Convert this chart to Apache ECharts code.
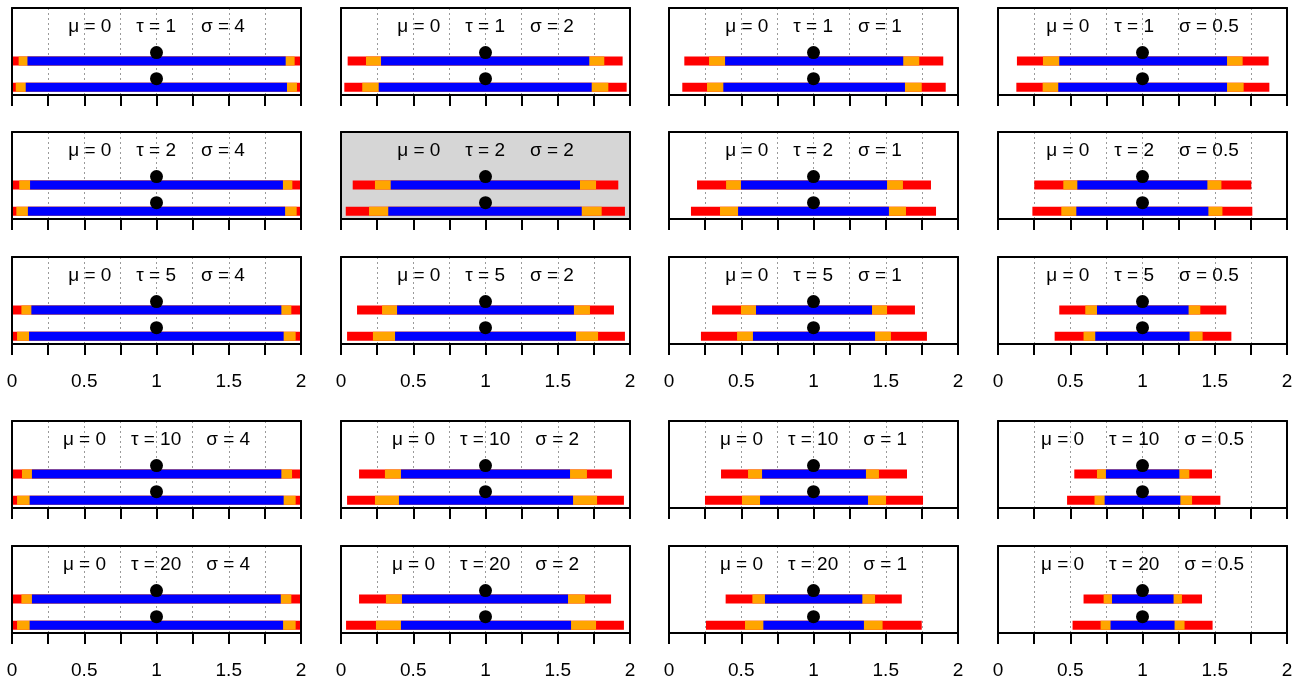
<!DOCTYPE html>
<html>
<head>
<meta charset="utf-8">
<title>interval panels</title>
<script src="https://cdn.jsdelivr.net/npm/echarts@6.0.0/dist/echarts.min.js"></script>
<style>
  html, body { margin: 0; padding: 0; background: #fff; }
  #chart { width: 1305px; height: 684px; }
</style>
</head>
<body>
<div id="chart"></div>
<script>
const mu = 0
const centre = 1
const taus = [1, 2, 5, 10, 20]
const sigmas = [4, 2, 1, 0.5]
const xTicks = [0, 0.5, 1, 1.5, 2]

// each panel: [upper bar, lower bar], bar = [red lo, orange lo, blue lo, blue hi, orange hi, red hi]
const tau1 = [
  [[0, 0.046, 0.107, 1.894, 1.956, 2], [0, 0.026, 0.095, 1.903, 1.972, 2]],
  [[0.046, 0.173, 0.277, 1.718, 1.822, 1.949], [0.023, 0.147, 0.261, 1.735, 1.850, 1.977]],
  [[0.106, 0.277, 0.388, 1.621, 1.732, 1.898], [0.092, 0.263, 0.376, 1.633, 1.749, 1.915]],
  [[0.131, 0.311, 0.424, 1.585, 1.693, 1.873], [0.127, 0.309, 0.417, 1.585, 1.700, 1.878]],
]
const tau2 = [
  [[0, 0.050, 0.125, 1.875, 1.940, 2], [0, 0.030, 0.110, 1.890, 1.970, 2]],
  [[0.081, 0.235, 0.344, 1.654, 1.765, 1.919], [0.033, 0.194, 0.327, 1.666, 1.804, 1.965]],
  [[0.194, 0.395, 0.498, 1.509, 1.619, 1.813], [0.152, 0.353, 0.478, 1.522, 1.640, 1.848]],
  [[0.251, 0.452, 0.549, 1.449, 1.546, 1.753], [0.238, 0.438, 0.542, 1.456, 1.553, 1.760]],
]
const tau5 = [
  [[0, 0.065, 0.134, 1.864, 1.933, 2], [0, 0.035, 0.118, 1.880, 1.963, 2]],
  [[0.111, 0.284, 0.388, 1.612, 1.723, 1.889], [0.042, 0.221, 0.374, 1.626, 1.779, 1.965]],
  [[0.298, 0.498, 0.602, 1.405, 1.509, 1.702], [0.221, 0.471, 0.581, 1.426, 1.536, 1.785]],
  [[0.424, 0.604, 0.685, 1.319, 1.400, 1.580], [0.392, 0.592, 0.673, 1.326, 1.416, 1.615]],
]
const tau10 = [
  [[0, 0.069, 0.138, 1.864, 1.938, 2], [0, 0.035, 0.122, 1.880, 1.963, 2]],
  [[0.125, 0.304, 0.415, 1.585, 1.702, 1.875], [0.042, 0.235, 0.401, 1.606, 1.772, 1.958]],
  [[0.360, 0.547, 0.644, 1.363, 1.453, 1.647], [0.249, 0.505, 0.630, 1.377, 1.502, 1.758]],
  [[0.528, 0.685, 0.747, 1.255, 1.324, 1.481], [0.478, 0.668, 0.738, 1.262, 1.343, 1.539]],
]
const tau20 = [
  [[0, 0.065, 0.138, 1.860, 1.933, 2], [0, 0.035, 0.122, 1.876, 1.963, 2]],
  [[0.125, 0.311, 0.422, 1.571, 1.689, 1.869], [0.035, 0.242, 0.415, 1.592, 1.765, 1.958]],
  [[0.392, 0.577, 0.664, 1.338, 1.426, 1.611], [0.256, 0.526, 0.653, 1.349, 1.478, 1.749]],
  [[0.592, 0.731, 0.789, 1.215, 1.273, 1.412], [0.516, 0.710, 0.779, 1.222, 1.291, 1.485]],
]
const intervals = [tau1, tau2, tau5, tau10, tau20]

// layout (px) and in-panel y levels (0..1)
const colLeft = [12, 341, 669, 998]
const rowTop = [8, 132, 257, 421, 546]
const panelW = 289
const panelH = 87
const barLevels = [0.39, 0.09]
const textLevel = 0.78
const labelledRows = [2, 4]
const shadedPanel = [1, 1]

const colours = ['#ff0000', '#ffa500', '#0000ff']
const font = '"Liberation Sans", Arial, Helvetica, sans-serif'

function bandData(pair) {
  const out = []
  pair.forEach((iv, k) => {
    for (let c = 0; c < 3; c++) out.push([iv[c], iv[5 - c], barLevels[k], c])
  })
  return out
}

function renderBand(params, api) {
  const a = api.coord([api.value(0), api.value(2)])
  const b = api.coord([api.value(1), api.value(2)])
  const h = 9
  const shape = echarts.graphic.clipRectByRect(
    { x: a[0], y: a[1] - h / 2, width: b[0] - a[0], height: h },
    params.coordSys
  )
  return shape && { type: 'rect', shape, style: { fill: colours[api.value(3)] } }
}

function renderText(params, api) {
  const p = api.coord([api.value(0), api.value(1)])
  return {
    type: 'text',
    x: p[0],
    y: p[1],
    style: {
      text: labelFor(params.seriesName),
      font: '19px ' + font,
      fill: '#000',
      align: 'center',
      verticalAlign: 'middle',
    },
  }
}

function labelFor(name) {
  const [tau, sigma] = name.split('|')
  const gap = '    \u2009'
  return `μ = ${mu}${gap}τ = ${tau}${gap}σ = ${sigma}`
}

const grid = []
const xAxis = []
const yAxis = []
const series = []

taus.forEach((tau, r) => {
  sigmas.forEach((sigma, c) => {
    const g = grid.length
    const shaded = r === shadedPanel[0] && c === shadedPanel[1]
    grid.push({
      left: colLeft[c],
      top: rowTop[r],
      width: panelW,
      height: panelH,
      show: shaded,
      backgroundColor: '#d6d6d6',
      borderWidth: 0,
    })
    const showLabels = labelledRows.includes(r)
    // bottom axis with ticks
    xAxis.push({
      gridIndex: g, type: 'value', min: 0, max: 2, interval: 0.25, position: 'bottom', z: 5,
      axisLine: { show: true, onZero: false, lineStyle: { color: '#000', width: 2 } },
      axisTick: { show: true, inside: false, length: 11, lineStyle: { color: '#000', width: 2 } },
      axisLabel: {
        show: showLabels, margin: 28, color: '#000', fontSize: 19, fontFamily: font,
        showMinLabel: true, showMaxLabel: true,
        formatter: v => (xTicks.includes(+v.toFixed(4)) ? String(+v.toFixed(4)) : ''),
      },
      splitLine: { show: false },
    })
    // top border + dotted guides
    xAxis.push({
      gridIndex: g, type: 'value', min: 0, max: 2, interval: 0.25, position: 'top', z: 1,
      axisLine: { show: true, onZero: false, lineStyle: { color: '#000', width: 2 } },
      axisTick: { show: false },
      axisLabel: { show: false },
      splitLine: { show: !shaded, lineStyle: { color: '#9a9a9a', width: 1, type: [2, 3] } },
    })
    yAxis.push({
      gridIndex: g, type: 'value', min: 0, max: 1, position: 'left', z: 5,
      axisLine: { show: true, onZero: false, lineStyle: { color: '#000', width: 2 } },
      axisTick: { show: false }, axisLabel: { show: false }, splitLine: { show: false },
    })
    yAxis.push({
      gridIndex: g, type: 'value', min: 0, max: 1, position: 'right', z: 5,
      axisLine: { show: true, onZero: false, lineStyle: { color: '#000', width: 2 } },
      axisTick: { show: false }, axisLabel: { show: false }, splitLine: { show: false },
    })

    series.push({
      type: 'custom',
      xAxisIndex: 2 * g, yAxisIndex: 2 * g,
      renderItem: renderBand,
      encode: { x: [0, 1], y: 2 },
      data: bandData(intervals[r][c]),
      silent: true,
    })
    series.push({
      type: 'scatter',
      xAxisIndex: 2 * g, yAxisIndex: 2 * g,
      symbolSize: 13,
      symbolOffset: [0, -8.5],
      itemStyle: { color: '#000', opacity: 1 },
      data: barLevels.map(y => [centre, y]),
      silent: true,
    })
    series.push({
      type: 'custom',
      name: `${tau}|${sigma}`,
      xAxisIndex: 2 * g, yAxisIndex: 2 * g,
      renderItem: renderText,
      data: [[centre, textLevel]],
      silent: true,
    })
  })
})

const chart = echarts.init(document.getElementById('chart'))
chart.setOption({
  animation: false,
  backgroundColor: '#fff',
  grid, xAxis, yAxis, series,
})
window.addEventListener('resize', () => chart.resize())
</script>
</body>
</html>
